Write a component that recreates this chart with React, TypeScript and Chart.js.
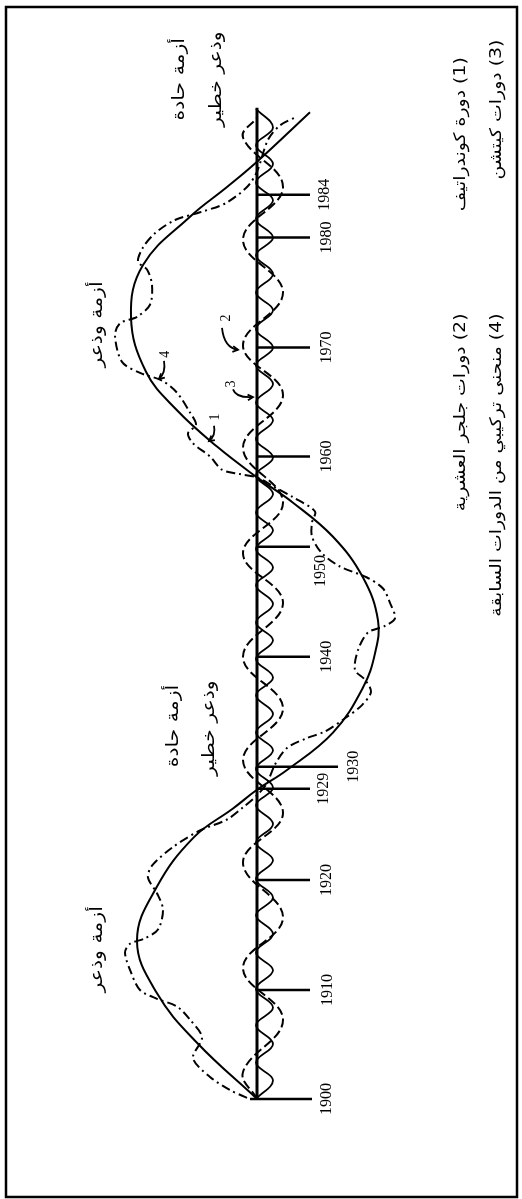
import { useEffect, useRef } from 'react';
import { Chart, registerables } from 'chart.js';

Chart.register(...registerables);

// y unit = position along the time axis (year position), x unit = deviation (positive = expansion, drawn to the left)
const kondYears = [1900.0, 1905.1, 1909.6, 1914.4, 1919.3, 1923.8, 1926.4, 1928.1, 1929.9, 1933.3, 1937.4, 1940.5, 1943.5, 1947.4, 1951.1, 1954.2, 1956.5, 1959.3, 1962.6, 1966.1, 1971.1, 1975.8, 1980.2, 1982.9, 1985.2, 1989.7];
const kondValues = [0, 6.0, 10.0, 12.0, 10.0, 6.3, 2.4, 0, -3.0, -7.6, -10.6, -11.8, -12.1, -10.6, -7.6, -3.6, 0, 4.0, 8.0, 11.1, 12.6, 11.4, 6.7, 3.0, 0, -5.3];

const juglarYears = [1900.0, 1902.45, 1907.2, 1911.9, 1916.5, 1921.5, 1926.0, 1930.8, 1935.5, 1940.2, 1945.1, 1949.6, 1954.2, 1959.2, 1964.0, 1968.5, 1973.3, 1978.1, 1982.9, 1987.4, 1989.2];
const juglarValues = [0, 1.4, -2.6, 1.4, -2.6, 1.4, -2.6, 1.4, -2.6, 1.4, -2.6, 1.4, -2.6, 1.4, -2.6, 1.4, -2.6, 1.4, -2.6, 1.4, 0];

const kitchinYears = [1900.0, 1901.7, 1903.3, 1905.0, 1906.7, 1908.3, 1910.0, 1911.7, 1913.3, 1915.0, 1916.7, 1918.3, 1920.0, 1921.7, 1923.3, 1925.0, 1926.7, 1928.3, 1930.0, 1931.7, 1933.3, 1935.0, 1936.7, 1938.3, 1940.0, 1941.7, 1943.3, 1945.0, 1946.7, 1948.3, 1950.0, 1951.7, 1953.3, 1955.0, 1956.7, 1958.3, 1960.0, 1961.7, 1963.3, 1965.0, 1966.7, 1968.3, 1970.0, 1971.7, 1973.3, 1975.0, 1976.7, 1978.3, 1980.0, 1981.7, 1983.3, 1985.0, 1986.7, 1988.3, 1990.0];
const kitchinValues = [0.1, -1.6, 0.1, -1.6, 0.1, -1.6, 0.1, -1.6, 0.1, -1.6, 0.1, -1.6, 0.1, -1.6, 0.1, -1.6, 0.1, -1.6, 0.1, -1.6, 0.1, -1.6, 0.1, -1.6, 0.1, -1.6, 0.1, -1.6, 0.1, -1.6, 0.1, -1.6, 0.1, -1.6, 0.1, -1.6, 0.1, -1.6, 0.1, -1.6, 0.1, -1.6, 0.1, -1.6, 0.1, -1.6, 0.1, -1.6, 0.1, -1.6, 0.1, -1.6, 0.1, -1.6, 0.1];

const compYears = [1900.1, 1900.8, 1902.0, 1903.7, 1905.6, 1907.2, 1908.4, 1909.1, 1909.9, 1911.5, 1913.3, 1914.1, 1914.6, 1915.4, 1917.2, 1918.7, 1920.1, 1921.2, 1922.9, 1924.4, 1925.4, 1926.5, 1927.6, 1928.7, 1930.4, 1931.9, 1932.8, 1933.4, 1934.6, 1935.8, 1937.0, 1938.1, 1939.0, 1940.8, 1942.4, 1943.0, 1943.7, 1945.1, 1946.4, 1947.4, 1948.4, 1949.6, 1951.1, 1952.4, 1953.4, 1954.7, 1955.6, 1956.5, 1956.8, 1957.2, 1958.4, 1959.6, 1960.5, 1961.3, 1962.4, 1964.2, 1965.3, 1966.0, 1967.0, 1969.4, 1970.5, 1971.1, 1972.2, 1974.0, 1975.4, 1976.1, 1977.4, 1978.7, 1979.9, 1980.6, 1981.4, 1982.9, 1984.3, 1987.2, 1988.5, 1989.3];
const compValues = [1.0, 2.7, 4.7, 6.4, 5.5, 6.7, 8.0, 10.0, 11.7, 12.6, 13.2, 12.7, 11.2, 9.9, 9.4, 10.0, 10.9, 10.5, 8.4, 5.7, 3.0, 1.4, 0, -1.0, -1.8, -3.0, -5.0, -6.8, -8.8, -10.5, -11.4, -10.8, -9.8, -10.1, -11.1, -12.8, -13.8, -13.3, -12.6, -11.0, -8.3, -6.5, -5.5, -5.5, -5.8, -3.6, -1.8, 0, 1.7, 3.5, 4.7, 6.4, 6.9, 6.1, 6.7, 8.0, 9.5, 11.7, 13.5, 14.2, 13.7, 12.0, 10.7, 10.5, 11.0, 11.9, 11.4, 10.2, 8.2, 5.7, 3.2, 1.0, 0, -1.1, -2.3, -4.0];

// time axis ticks
const tickLabels = ['1900', '1910', '1920', '1929', '1930', '1940', '1950', '1960', '1970', '1980', '1984'];
const tickYears = [1900.0, 1909.9, 1919.9, 1928.2, 1930.2, 1940.2, 1950.2, 1958.4, 1968.3, 1978.3, 1982.2];
const tickLabelYears = [1900.0, 1909.9, 1919.9, 1928.2, 1930.2, 1940.2, 1948.0, 1958.4, 1968.3, 1978.3, 1982.2];
const tickStart = [0.7, 0, 0, 0, 0, 0, 0, 0, 0, 0, 0];
const tickEnd = [-5.5, -5.3, -5.3, -5.3, -8.1, -5.3, -5.3, -5.3, -5.3, -5.3, -5.3];
const tickLabelX = [-7.0, -7.1, -7.0, -6.7, -9.7, -7.0, -6.4, -7.0, -7.0, -7.0, -6.8];
const axisStartYear = 1900.0;
const axisEndYear = 1990.1;

// annotations
const noteTexts = ['أزمة وذعر', 'أزمة وذعر', 'أزمة حادة', 'وذعر خطير', 'أزمة حادة', 'وذعر خطير'];
const noteYears = [1913.6, 1970.4, 1933.9, 1933.7, 1992.7, 1992.7];
const noteX = [15.9, 15.9, 8.3, 4.7, 7.7, 4.0];

const legendTexts = ['(1) دورة كوندراتيف', '(3) دورات كيتشن', '(2) دورات جلجر العشرية', '(4) منحنى تركيبي من الدورات السابقة'];
const legendYears = [1994.7, 1996.3, 1971.4, 1971.4];
const legendX = [-20.4, -24.0, -20.4, -24.0];

const curveNums = ['1', '2', '3', '4'];
const curveNumYears = [1962.0, 1971.0, 1965.0, 1967.7];
const curveNumX = [4.2, 3.1, 2.6, 9.2];
// arrows: [startX, startYear, ctrlX, ctrlYear, endX, endYear]
const arrows = [
  [4.3, 1961.2, 4.1, 1960.3, 4.8, 1959.8],
  [3.5, 1970.1, 3.3, 1968.3, 1.9, 1968.1],
  [2.4, 1964.5, 2.1, 1963.7, 0.4, 1963.8],
  [9.3, 1967.1, 9.1, 1966.0, 9.8, 1965.45],
];

const SERIF = '"Liberation Serif", "Times New Roman", serif';
const ARABIC = '"DejaVu Sans", sans-serif';

function rotText(ctx: CanvasRenderingContext2D, text: string, x: number, y: number, font: string, align: CanvasTextAlign, dir: CanvasDirection, stretch = 1) {
  ctx.save();
  ctx.translate(x, y);
  ctx.rotate(-Math.PI / 2);
  ctx.scale(stretch, 1);
  ctx.font = font;
  ctx.direction = dir;
  ctx.textAlign = align;
  ctx.textBaseline = 'middle';
  ctx.fillStyle = '#000';
  ctx.fillText(text, 0, 0);
  ctx.restore();
}

const decorPlugin = {
  id: 'decor',
  beforeDatasetsDraw(chart: any) {
    const { ctx } = chart;
    const xs = chart.scales.x;
    const ys = chart.scales.y;
    ctx.save();
    ctx.strokeStyle = '#000';
    ctx.lineWidth = 2.5;
    ctx.strokeRect(6, 7, chart.width - 11, chart.height - 9);
    const x0 = xs.getPixelForValue(0);
    ctx.lineWidth = 3;
    ctx.beginPath();
    ctx.moveTo(x0, ys.getPixelForValue(axisStartYear));
    ctx.lineTo(x0, ys.getPixelForValue(axisEndYear));
    ctx.stroke();
    ctx.lineWidth = 2.5;
    tickYears.forEach((yr, i) => {
      const py = ys.getPixelForValue(yr);
      ctx.beginPath();
      ctx.moveTo(xs.getPixelForValue(tickStart[i]), py);
      ctx.lineTo(xs.getPixelForValue(tickEnd[i]), py);
      ctx.stroke();
    });
    ctx.restore();
  },
  afterDatasetsDraw(chart: any) {
    const { ctx } = chart;
    const xs = chart.scales.x;
    const ys = chart.scales.y;
    tickLabels.forEach((t, i) => {
      rotText(ctx, t, xs.getPixelForValue(tickLabelX[i]), ys.getPixelForValue(tickLabelYears[i]), `16px ${SERIF}`, 'center', 'ltr');
    });
    noteTexts.forEach((t, i) => {
      rotText(ctx, t, xs.getPixelForValue(noteX[i]), ys.getPixelForValue(noteYears[i]), `17px ${ARABIC}`, 'center', 'rtl', 1.2);
    });
    legendTexts.forEach((t, i) => {
      rotText(ctx, t, xs.getPixelForValue(legendX[i]), ys.getPixelForValue(legendYears[i]), `16px ${ARABIC}`, 'right', 'rtl', 1.18);
    });
    curveNums.forEach((t, i) => {
      rotText(ctx, t, xs.getPixelForValue(curveNumX[i]), ys.getPixelForValue(curveNumYears[i]), `14px ${SERIF}`, 'center', 'ltr');
    });
    ctx.save();
    ctx.strokeStyle = '#000';
    ctx.lineWidth = 1.8;
    arrows.forEach((a) => {
      const sx = xs.getPixelForValue(a[0]);
      const sy = ys.getPixelForValue(a[1]);
      const cx = xs.getPixelForValue(a[2]);
      const cy = ys.getPixelForValue(a[3]);
      const ex = xs.getPixelForValue(a[4]);
      const ey = ys.getPixelForValue(a[5]);
      ctx.beginPath();
      ctx.moveTo(sx, sy);
      ctx.quadraticCurveTo(cx, cy, ex, ey);
      ctx.stroke();
      const ang = Math.atan2(ey - cy, ex - cx);
      const L = 6;
      ctx.beginPath();
      ctx.moveTo(ex - L * Math.cos(ang - 0.5), ey - L * Math.sin(ang - 0.5));
      ctx.lineTo(ex, ey);
      ctx.lineTo(ex - L * Math.cos(ang + 0.5), ey - L * Math.sin(ang + 0.5));
      ctx.stroke();
    });
    ctx.restore();
  },
};

function pts(ys: number[], vs: number[]) {
  return ys.map((y, i) => ({ x: vs[i], y }));
}

export default function App() {
  const ref = useRef<HTMLCanvasElement>(null);
  useEffect(() => {
    const canvas = ref.current;
    if (!canvas) return;
    const base = { showLine: true, pointRadius: 0, borderColor: '#000', backgroundColor: '#000', fill: false };
    const chart = new Chart(canvas, {
      type: 'scatter',
      data: {
        datasets: [
          { ...base, label: 'Kondratieff', data: pts(kondYears, kondValues), borderWidth: 2, tension: 0.4 },
          { ...base, label: 'Juglar', data: pts(juglarYears, juglarValues), borderWidth: 2, tension: 0.4, borderDash: [9, 4] },
          { ...base, label: 'Kitchin', data: pts(kitchinYears, kitchinValues), borderWidth: 1.8, tension: 0.4 },
          { ...base, label: 'Composite', data: pts(compYears, compValues), borderWidth: 2, tension: 0.3, borderDash: [9, 4, 2, 4] },
        ],
      },
      options: {
        responsive: false,
        animation: false,
        devicePixelRatio: 1,
        layout: { padding: 0 },
        plugins: { legend: { display: false }, tooltip: { enabled: false }, title: { display: false } },
        scales: {
          x: { type: 'linear', display: false, min: -26.5, max: 25.7, reverse: true },
          y: { type: 'linear', display: false, min: 1890.9, max: 1999.9 },
        },
      },
      plugins: [decorPlugin],
    } as any);
    return () => chart.destroy();
  }, []);
  return (
    <canvas
      ref={ref}
      width={522}
      height={1199}
      style={{ position: 'absolute', left: 0, top: 0, display: 'block', width: 522, height: 1199 }}
    />
  );
}
